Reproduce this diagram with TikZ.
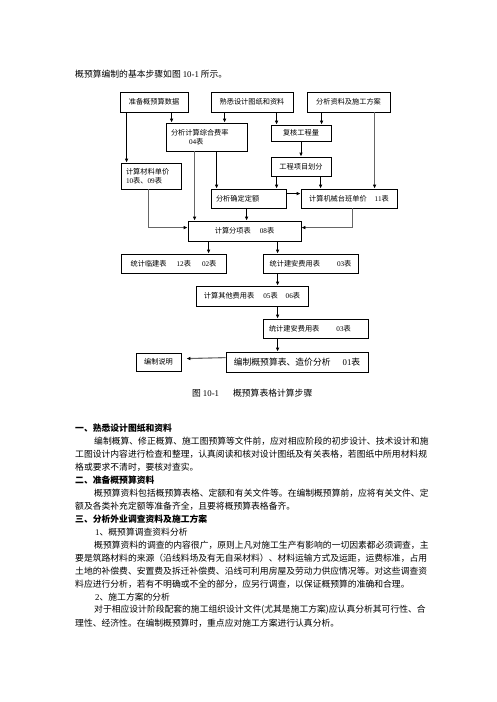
\documentclass[tikz,border=0pt]{standalone}
\usepackage{fontspec}
\setmainfont{Noto Sans CJK SC}
\newfontfamily\lat{Liberation Serif}
\usetikzlibrary{arrows.meta,calc}
\XeTeXlinebreaklocale "zh"
\XeTeXlinebreakskip=0pt plus 1pt
\newcommand\bx{\fontsize{7.2}{9}\selectfont}
\newcommand\bd{\fontsize{8.8}{10}\selectfont}
\newcommand\nm[1]{{\lat #1}}
\newcommand\fla[1]{\makebox[345pt][s]{#1}}
\newcommand\flb[1]{\makebox[326pt][s]{#1}}
\begin{document}
\begin{tikzpicture}[x=1pt,y=-1pt,
  box/.style={draw,line width=0.8pt,inner sep=0pt,font=\bx},
  arr/.style={line width=0.8pt,-{Latex[length=4pt,width=3.6pt]}},
  garr/.style={line width=1.1pt,draw=black!60,-{Latex[length=4pt,width=3.6pt,color=black]}},
  txt/.style={anchor=west,inner sep=0pt,font=\bd},
  hd/.style={anchor=west,inner sep=0pt,font=\bd\bfseries}]
\fill[white] (0,0) rectangle (496,702);
\useasboundingbox (0,0) rectangle (496,702);

\node[txt] (intro) at (75,74) {概预算编制的基本步骤如图 \nm{10-1} 所示。};

% boxes
\node[box,minimum width=68pt,minimum height=20pt] (A) at (154,102) {准备概预算数据};
\node[box,minimum width=82pt,minimum height=20pt] (B) at (252,102) {熟悉设计图纸和资料};
\node[box,minimum width=83pt,minimum height=20pt] (C) at (348.5,102) {分析资料及施工方案};
\node[box,minimum height=28pt,align=left,text width=71pt,inner xsep=5pt] (D) at (206.5,137) {分析计算综合费率\\\hspace*{18pt}\nm{04}表};
\node[box,minimum width=60pt,minimum height=16pt] (E) at (301,133) {复核工程量};
\node[box,minimum width=60pt,minimum height=19pt] (F) at (301,166.5) {工程项目划分};
\node[box,minimum height=26pt,align=left,text width=50pt,inner xsep=5pt] (G) at (151,176) {计算材料单价\\\nm{10}表、\nm{09}表};
\node[box,minimum height=19pt,align=left,text width=65pt,inner xsep=5pt] (H) at (248.5,198.5) {分析确定定额};
\node[box,minimum width=96pt,minimum height=19pt] (I) at (349,198.5) {计算机械台班单价\hspace{8pt}\nm{11}表};
\node[box,minimum width=113pt,minimum height=20pt] (J) at (244.5,231) {计算分项表\hspace{9pt}\nm{08}表};
\node[box,minimum width=105pt,minimum height=19pt] (K) at (173.5,263.5) {统计临建表\hspace{10pt}\nm{12}表\hspace{11pt}\nm{02}表};
\node[box,minimum width=95pt,minimum height=19pt] (L) at (310.5,263.5) {统计建安费用表\hspace{17pt}\nm{03}表};
\node[box,minimum width=112pt,minimum height=20pt] (M) at (252,296) {计算其他费用表\hspace{9pt}\nm{05}表\hspace{8pt}\nm{06}表};
\node[box,minimum height=19pt,align=left,text width=93pt,inner xsep=6pt] (N) at (315.5,328.5) {统计建安费用表\hspace{17pt}\nm{03}表};
\node[box,minimum width=45pt,minimum height=18pt] (O) at (158.5,362) {编制说明};
\node[box,minimum width=142pt,minimum height=20pt,font=\bd] (P) at (297,362) {编制概预算表、造价分析\hspace{12pt}\nm{01}表};

% arrows
\draw[arr] ($(A.south west)+(7,0)$) -- ($(G.north west)+(6,0)$);
\draw[arr] ($(A.south west)+(52,0)$) -- ($(D.north west)+(6,0)$);
\draw[arr] ($(B.south west)+(14,0)$) -- ($(D.north west)+(59,0)$);
\draw[arr] ($(B.south west)+(66,0)$) -- ($(E.north west)+(6,0)$);
\draw[arr] ($(C.south west)+(15,0)$) -- ($(E.north west)+(51,0)$);
\draw[garr] ($(C.south west)+(68,0)$) -- ($(I.north west)+(74,0)$);
\draw[arr] (E.south) -- (F.north);
\draw[garr] ($(D.south west)+(29,0)$) -- ($(J.north west)+(7,0)$);
\draw[arr] ($(D.south west)+(51,0)$) -- ($(H.north west)+(6,0)$);
\draw[arr] ($(F.south west)+(6,0)$) -- ($(H.north west)+(66,0)$);
\draw[arr] ($(F.south west)+(50,0)$) -- ($(I.north west)+(20,0)$);
\draw[arr] ($(H.north east)+(0,5)$) -- ($(I.north west)+(0,5)$);
\draw[arr] ($(H.south west)+(36,0)$) -- ($(J.north west)+(59,0)$);
\draw[garr] ($(G.south west)+(28,0)$) |- ($(J.north west)+(0,7)$);
\draw[garr] ($(I.south west)+(52,0)$) |- ($(J.north east)+(0,7)$);
\draw[arr] ($(J.south west)+(21,0)$) -- ($(K.north west)+(88,0)$);
\draw[arr] ($(J.south west)+(90,0)$) -- ($(L.north west)+(15,0)$);
\draw[arr] ($(L.south west)+(15,0)$) -- ($(M.north west)+(82,0)$);
\draw[arr] ($(M.south west)+(82,0)$) -- ($(N.north west)+(15,0)$);
\draw[arr] ($(N.south west)+(15,0)$) -- ($(P.north west)+(52,0)$);
\draw[garr] ($(P.north west)+(0,6)$) -- ($(O.north east)+(5,6)$);

\node[txt] (cap) at (192,393) {图 \nm{10-1}\hspace{14pt}概预算表格计算步骤};

% body text
\node[hd] (h1) at (75,428) {一、熟悉设计图纸和资料};
\node[txt] (l1) at (94,441) {\flb{编制概算、修正概算、施工图预算等文件前，应对相应阶段的初步设计、技术设计和施}};
\node[txt] (l2) at (75,454) {\fla{工图设计内容进行检查和整理，认真阅读和核对设计图纸及有关表格，若图纸中所用材料规}};
\node[txt] (l3) at (75,467) {格或要求不清时，要核对查实。};
\node[hd] (h2) at (75,480) {二、准备概预算资料};
\node[txt] (l4) at (94,493) {\flb{概预算资料包括概预算表格、定额和有关文件等。在编制概预算前，应将有关文件、定}};
\node[txt] (l5) at (75,506) {额及各类补充定额等准备齐全，且要将概预算表格备齐。};
\node[hd] (h3) at (75,519) {三、分析外业调查资料及施工方案};
\node[txt] (s1) at (95,532) {\nm{1}、概预算调查资料分析};
\node[txt] (l6) at (94,545) {\flb{概预算资料的调查的内容很广，原则上凡对施工生产有影响的一切因素都必须调查，主}};
\node[txt] (l7) at (75,558) {\fla{要是筑路材料的来源（沿线料场及有无自采材料）、材料运输方式及运距，运费标准，占用}};
\node[txt] (l8) at (75,571) {\fla{土地的补偿费、安置费及拆迁补偿费、沿线可利用房屋及劳动力供应情况等。对这些调查资}};
\node[txt] (l9) at (75,584) {料应进行分析，若有不明确或不全的部分，应另行调查，以保证概预算的准确和合理。};
\node[txt] (s2) at (95,597) {\nm{2}、施工方案的分析};
\node[txt] (l10) at (94,610) {\flb{对于相应设计阶段配套的施工组织设计文件(尤其是施工方案)应认真分析其可行性、合}};
\node[txt] (l11) at (75,623) {理性、经济性。在编制概预算时，重点应对施工方案进行认真分析。};
\end{tikzpicture}
\end{document}
